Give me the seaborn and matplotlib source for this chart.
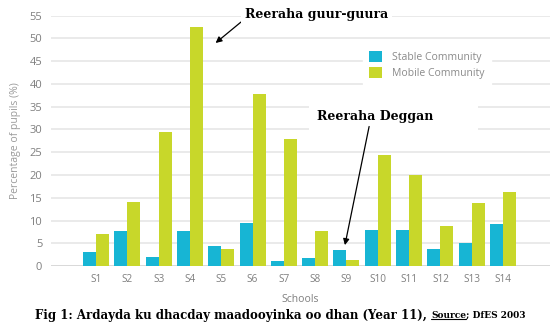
import matplotlib
matplotlib.use("Agg")
import matplotlib.pyplot as plt
import seaborn as sns
import pandas as pd
from matplotlib.patches import Rectangle
from matplotlib.lines import Line2D

schools = ["S1", "S2", "S3", "S4", "S5", "S6", "S7", "S8", "S9", "S10", "S11", "S12", "S13", "S14"]
stable = [3.1, 7.7, 2.0, 7.7, 4.4, 9.4, 1.2, 1.8, 3.5, 8.0, 8.0, 3.7, 5.1, 9.2]
mobile = [7.1, 14.0, 29.5, 52.6, 3.8, 37.9, 27.8, 7.8, 1.3, 24.3, 20.1, 8.8, 13.8, 16.2]
series_names = ["Stable Community", "Mobile Community"]
yticks = list(range(0, 56, 5))

df = pd.DataFrame({
    "School": schools * 2,
    "Value": stable + mobile,
    "Series": [series_names[0]] * len(schools) + [series_names[1]] * len(schools),
})

sns.set_theme(style="white")
plt.rcParams["font.family"] = ["Open Sans", "DejaVu Sans"]

CYAN = "#17B5D4"
LIME = "#C8D72A"
GRAY_TXT = "#7f7f7f"

fig = plt.figure(figsize=(5.5, 3.33), dpi=100)
ax = fig.add_axes([0.092, 0.201, 0.908, 0.752])

sns.barplot(data=df, x="School", y="Value", hue="Series", order=schools,
            hue_order=series_names, palette=[CYAN, LIME], width=0.83, gap=0,
            saturation=1, linewidth=0, ax=ax, zorder=3)

ax.set_ylim(0, 55)
ax.set_xlim(-1.45, 14.5)
ax.set_yticks(yticks)
ax.set_yticklabels([str(v) for v in yticks])
for y in yticks:
    ax.axhline(y, color="#d6d6d6" if y == 0 else "#e8e8e8", lw=1.3, zorder=0)
for s in ax.spines.values():
    s.set_visible(False)
ax.tick_params(axis="both", length=0, colors=GRAY_TXT)
ax.tick_params(axis="x", pad=6, labelsize=7.2)
ax.tick_params(axis="y", pad=6, labelsize=8)
ax.set_xlabel("Schools", color=GRAY_TXT, fontsize=7.5, labelpad=6)
ax.set_ylabel("Percentage of pupils (%)", color="#9a9a9a", fontsize=7.5, labelpad=6)

leg = ax.legend(loc="upper left", bbox_to_anchor=(0.615, 0.905), frameon=True,
                facecolor="white", edgecolor="white", framealpha=1,
                fontsize=7.5, handlelength=1.2, handleheight=1.2,
                labelspacing=0.45, borderpad=0.6, handletextpad=1.0)
for t in leg.get_texts():
    t.set_color("#8a8a8a")
leg.set_zorder(4)

# white box behind "Reeraha Deggan"
ax.add_patch(Rectangle((6.8, 28.6), 5.4, 8.2, facecolor="white", edgecolor="none", zorder=1))

serif = dict(family="DejaVu Serif", fontweight="bold", color="black")
ax.annotate("Reeraha guur-guura", xy=(3.82, 49.0), xytext=(7.05, 55.2),
            ha="center", va="center", fontsize=9, annotation_clip=False,
            bbox=dict(facecolor="white", edgecolor="none", pad=3),
            arrowprops=dict(arrowstyle="-|>", color="black", lw=0.9, mutation_scale=9,
                            shrinkA=0, shrinkB=0, relpos=(0.0, 0.2)),
            zorder=6, **serif)
ax.annotate("Reeraha Deggan", xy=(7.95, 4.6), xytext=(8.93, 32.8),
            ha="center", va="center", fontsize=9, annotation_clip=False,
            arrowprops=dict(arrowstyle="-|>", color="black", lw=0.9, mutation_scale=9,
                            shrinkA=0, shrinkB=0, relpos=(0.45, 0.0)),
            zorder=6, **serif)

# caption
cap1 = fig.text(0.064, 0.054, "Fig 1: Ardayda ku dhacday maadooyinka oo dhan (Year 11), ",
                ha="left", va="center", fontsize=8.5, **serif)
fig.canvas.draw()
r = fig.canvas.get_renderer()
bb = cap1.get_window_extent(r)
cap2 = fig.text(bb.x1 / fig.bbox.width, 0.054, "Source", ha="left", va="center",
                fontsize=6.5, **serif)
fig.canvas.draw()
bb2 = cap2.get_window_extent(r)
cap3 = fig.text(bb2.x1 / fig.bbox.width, 0.054, "; DfES 2003", ha="left", va="center",
                fontsize=6.5, **serif)
fig.add_artist(Line2D([bb2.x0 / fig.bbox.width, bb2.x1 / fig.bbox.width],
                      [(bb2.y0 + 1) / fig.bbox.height] * 2, color="black", lw=0.8,
                      transform=fig.transFigure))

fig.savefig("out.png", dpi=100)
